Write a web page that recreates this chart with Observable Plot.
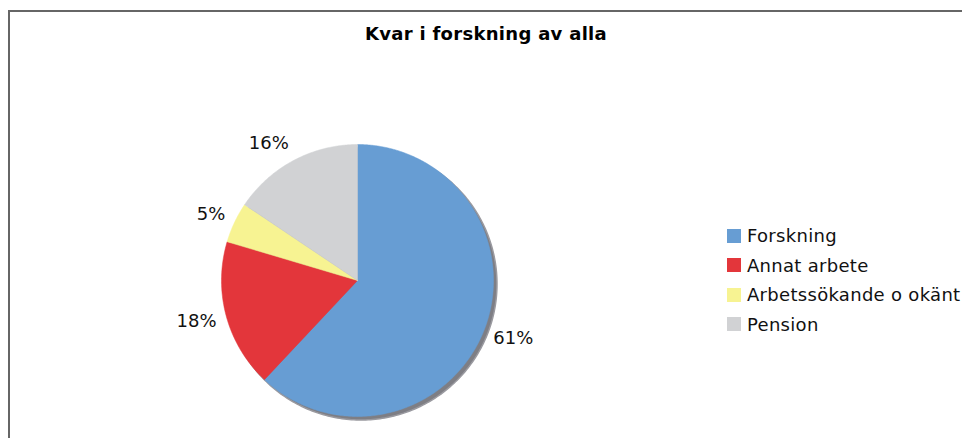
<!DOCTYPE html>
<html>
<head>
<meta charset="utf-8">
<script src="https://cdn.jsdelivr.net/npm/d3@7"></script>
<script src="https://cdn.jsdelivr.net/npm/@observablehq/plot@0.6"></script>
<style>
  html, body { margin: 0; padding: 0; background: #fff; }
  #wrap { position: relative; width: 962px; height: 438px; overflow: hidden; font-family: "DejaVu Sans", Verdana, sans-serif; }
  #frame { position: absolute; left: 8px; top: 10px; width: 1000px; height: 1000px; border-left: 2px solid #666; border-top: 2px solid #666; box-sizing: border-box; }
  #title { position: absolute; left: 0; width: 972px; top: 23px; text-align: center; font-weight: bold; font-size: 18px; letter-spacing: 0.3px; color: #000; }
  #legend { position: absolute; left: 727px; top: 221px; font-size: 18px; letter-spacing: 0.3px; color: #111; }
  .item { display: flex; align-items: center; height: 29.5px; white-space: nowrap; }
  .sw { width: 14px; height: 14px; margin-right: 6px; flex: none; }
  #chart { position: absolute; left: 0; top: 0; }
</style>
</head>
<body>
<div id="wrap">
  <div id="frame"></div>
  <div id="chart"></div>
  <div id="title"></div>
  <div id="legend"></div>
</div>
<script>
const title = "Kvar i forskning av alla";
const categories = ["Forskning", "Annat arbete", "Arbetssökande o okänt", "Pension"];
const values = [62, 17.6, 4.8, 15.6];
const labels = ["61%", "18%", "5%", "16%"];
const colors = ["#679dd3", "#e3363b", "#f7f392", "#d1d2d4"];

// layout constants (pixels)
const W = 962, H = 438, R = 136, CX = 357, CY = 280;
const LABEL_GAP = 10, LABEL_HALF_H = 10;

const arcs = d3.pie().sort(null).value(d => d)(values);
const sliceRows = [];
arcs.forEach((a, i) => {
  const cat = categories[i];
  sliceRows.push({cat, x: 0, y: 0});
  const n = Math.max(4, Math.ceil((a.endAngle - a.startAngle) / 0.01));
  for (let k = 0; k <= n; k++) {
    const t = a.startAngle + (a.endAngle - a.startAngle) * k / n;
    sliceRows.push({cat, x: Math.sin(t), y: Math.cos(t)});
  }
  sliceRows.push({cat, x: 0, y: 0});
});
const circleRows = d3.range(0, 361).map(k => {
  const t = k / 360 * 2 * Math.PI;
  return {x: Math.sin(t), y: Math.cos(t)};
});
const labelRows = arcs.map((a, i) => {
  const m = (a.startAngle + a.endAngle) / 2;
  const s = Math.sin(m), c = Math.cos(m);
  return {
    label: labels[i],
    x: s * (R + LABEL_GAP) / R,
    y: c * (R + LABEL_GAP + LABEL_HALF_H) / R,
    anchor: s >= 0 ? "start" : "end"
  };
});

const plot = Plot.plot({
  width: W,
  height: H,
  margin: 0,
  x: {domain: [-CX / R, (W - CX) / R], axis: null},
  y: {domain: [-(H - CY) / R, CY / R], axis: null},
  color: {domain: categories, range: colors},
  style: {background: "transparent", fontFamily: "DejaVu Sans, Verdana, sans-serif"},
  marks: [
    Plot.line(circleRows, {x: "x", y: "y", fill: "#7e7e84", stroke: "#9a9aa0", strokeWidth: 1.5, dx: 3.5, dy: 3.5}),
    Plot.line(sliceRows, {x: "x", y: "y", z: "cat", fill: "cat", stroke: "cat", strokeWidth: 0.5, curve: "linear"}),
    Plot.text(labelRows.filter(d => d.anchor === "start"), {x: "x", y: "y", text: "label", fontSize: 18, fill: "#111", textAnchor: "start", lineAnchor: "middle"}),
    Plot.text(labelRows.filter(d => d.anchor === "end"), {x: "x", y: "y", text: "label", fontSize: 18, fill: "#111", textAnchor: "end", lineAnchor: "middle"})
  ]
});
document.getElementById("chart").appendChild(plot);

document.getElementById("title").textContent = title;
const legend = document.getElementById("legend");
categories.forEach((c, i) => {
  const item = document.createElement("div");
  item.className = "item";
  const sw = document.createElement("span");
  sw.className = "sw";
  sw.style.background = colors[i];
  const tx = document.createElement("span");
  tx.textContent = c;
  item.appendChild(sw);
  item.appendChild(tx);
  legend.appendChild(item);
});
</script>
</body>
</html>
